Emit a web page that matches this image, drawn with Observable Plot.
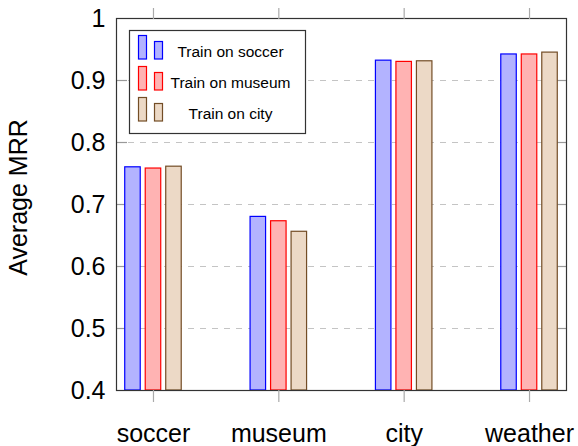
<!DOCTYPE html>
<html>
<head>
<meta charset="utf-8">
<script src="https://cdn.jsdelivr.net/npm/d3@7"></script>
<script src="https://cdn.jsdelivr.net/npm/@observablehq/plot@0.6"></script>
<style>
  html, body { margin: 0; padding: 0; background: #fff; }
  #wrap { position: relative; width: 578px; height: 446px; font-family: "Liberation Sans", Arial, sans-serif; }
  #legend { position: absolute; left: 0; top: 0; }
</style>
</head>
<body>
<div id="wrap"></div>
<script>
// ---- data ----
const categories = ["soccer", "museum", "city", "weather"];
const series = ["Train on soccer", "Train on museum", "Train on city"];
const trainOnSoccer = [0.760, 0.680, 0.932, 0.942];
const trainOnMuseum = [0.758, 0.673, 0.930, 0.942];
const trainOnCity   = [0.761, 0.656, 0.931, 0.945];
const yTicks = [0.4, 0.5, 0.6, 0.7, 0.8, 0.9, 1];
const yTickLabels = ["0.4", "0.5", "0.6", "0.7", "0.8", "0.9", "1"];
const gridValues = [0.5, 0.6, 0.7, 0.8, 0.9];
const yLabel = "Average MRR";
const fills = ["#b3b3ff", "#ffb3b3", "#ecd9c6"];
const strokes = ["#0000ff", "#ff0000", "#734d26"];

// ---- layout ----
const W = 578, H = 446;
const mL = 116, mR = 12, mT = 18, mB = 56;
const plotW = W - mL - mR;
const padInner = 0.41;
const step = plotW / (categories.length - padInner);
const bandW = step * (1 - padInner);
const barW = 15.5, barPitch = 20.5;

const seriesValues = [trainOnSoccer, trainOnMuseum, trainOnCity];
const rows = [];
series.forEach((s, k) => categories.forEach((c, i) => rows.push({series: s, category: c, value: seriesValues[k][i]})));

const barMarks = series.map((s, k) => {
  const off = (k - 1) * barPitch;
  const side = (bandW - barW) / 2;
  return Plot.barY(rows.filter(r => r.series === s), {
    x: "category", y1: yTicks[0], y2: "value",
    fill: fills[k], stroke: strokes[k], strokeWidth: 1.2,
    insetLeft: side + off, insetRight: side - off
  });
});

const chart = Plot.plot({
  width: W, height: H,
  marginLeft: mL, marginRight: mR, marginTop: mT, marginBottom: mB,
  style: {fontFamily: "'Liberation Sans', Arial, sans-serif", background: "#fff", color: "#000"},
  x: {type: "band", domain: categories, paddingInner: padInner, paddingOuter: 0, round: false},
  y: {domain: [yTicks[0], yTicks[yTicks.length - 1]]},
  marks: [
    Plot.ruleY(gridValues, {y: d => d, stroke: "#c4c4c4", strokeWidth: 1.2, strokeDasharray: "6,6"}),
    Plot.tickY(gridValues, {y: d => d, stroke: "#999", strokeWidth: 1.2, insetRight: plotW - 11}),
    Plot.tickY(gridValues, {y: d => d, stroke: "#999", strokeWidth: 1.2, insetLeft: plotW - 11}),
    ...barMarks,
    Plot.frame({stroke: "#333", strokeWidth: 1.2}),
    Plot.axisX({anchor: "top", tickSize: 11, stroke: "#aaa", strokeWidth: 1.2, tickFormat: () => "", label: null}),
    Plot.axisX({anchor: "bottom", tickSize: 12, tickPadding: 22, stroke: "#aaa", strokeWidth: 1.2, fill: "#000", fontSize: 25, label: null}),
    Plot.axisY(yTicks, {anchor: "left", tickSize: 0, tickPadding: 11, fontSize: 25, fill: "#000",
      tickFormat: d => yTickLabels[yTicks.indexOf(d)], label: null}),
    Plot.text([yLabel], {frameAnchor: "left", textAnchor: "middle", dx: -97.5, dy: -7, rotate: -90, fontSize: 25, fill: "#000"})
  ]
});

const wrap = document.getElementById("wrap");
wrap.appendChild(chart);

// ---- legend (overlay) ----
const lg = d3.select(wrap).append("svg").attr("id", "legend")
  .attr("width", W).attr("height", H).style("pointer-events", "none");
lg.append("rect").attr("x", 129.5).attr("y", 30.5).attr("width", 176).attr("height", 103)
  .attr("fill", "#fff").attr("stroke", "#333").attr("stroke-width", 1.2);
series.forEach((s, k) => {
  const top = 35.5 + k * 31;
  lg.append("rect").attr("x", 138.5).attr("y", top).attr("width", 8).attr("height", 23.5)
    .attr("fill", fills[k]).attr("stroke", strokes[k]).attr("stroke-width", 1.2);
  lg.append("rect").attr("x", 154.5).attr("y", top + 6).attr("width", 8).attr("height", 17.5)
    .attr("fill", fills[k]).attr("stroke", strokes[k]).attr("stroke-width", 1.2);
  lg.append("text").attr("x", 230.5).attr("y", top + 21.5).attr("text-anchor", "middle")
    .attr("font-size", 15.5).attr("font-family", "'Liberation Sans', Arial, sans-serif")
    .attr("fill", "#000").text(s);
});
</script>
</body>
</html>
